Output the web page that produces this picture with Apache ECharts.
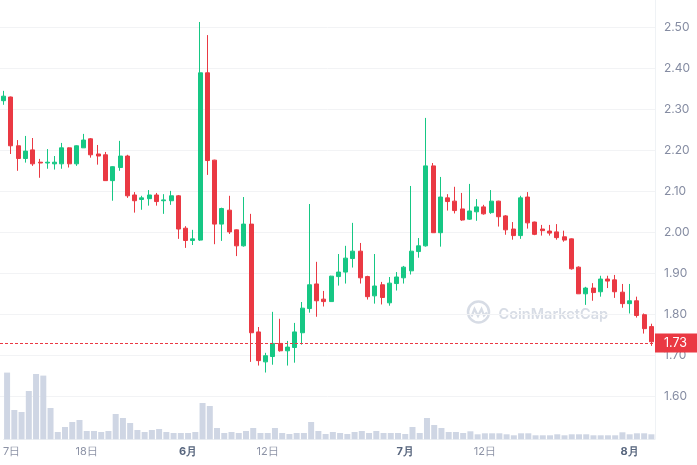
<!DOCTYPE html>
<html><head><meta charset="utf-8">
<script src="https://cdn.jsdelivr.net/npm/echarts@6/dist/echarts.min.js"></script>
<style>html,body{margin:0;padding:0;background:#fff}#c{width:697px;height:465px}</style>
</head><body><div id="c"></div>
<script>
const dates = [
 '05-07','05-08','05-09','05-10','05-11','05-12','05-13','05-14','05-15','05-16','05-17','05-18','05-19','05-20','05-21','05-22','05-23','05-24','05-25','05-26','05-27','05-28','05-29','05-30','05-31',
 '06-01','06-02','06-03','06-04','06-05','06-06','06-07','06-08','06-09','06-10','06-11','06-12','06-13','06-14','06-15','06-16','06-17','06-18','06-19','06-20','06-21','06-22','06-23','06-24','06-25','06-26','06-27','06-28','06-29','06-30',
 '07-01','07-02','07-03','07-04','07-05','07-06','07-07','07-08','07-09','07-10','07-11','07-12','07-13','07-14','07-15','07-16','07-17','07-18','07-19','07-20','07-21','07-22','07-23','07-24','07-25','07-26','07-27','07-28','07-29','07-30','07-31',
 '08-01','08-02','08-03','08-04'
];
const tickIndex = [0, 11, 25, 36, 55, 66, 86];
const tickText = ['7日', '18日', '6月', '12日', '7月', '12日', '8月'];

const open = [2.321,2.330,2.211,2.180,2.201,2.171,2.169,2.167,2.167,2.206,2.167,2.206,2.228,2.191,2.189,2.126,2.158,2.186,2.091,2.080,
 2.082,2.091,2.077,2.077,2.089,2.010,1.980,1.981,2.389,2.176,2.020,2.054,2.006,1.967,2.020,1.757,1.684,1.697,1.729,1.711,
 1.719,1.755,1.814,1.874,1.837,1.831,1.892,1.903,1.936,1.954,1.892,1.845,1.872,1.828,1.875,1.889,1.906,1.953,1.967,2.162,
 1.999,2.084,2.076,2.057,2.032,2.050,2.062,2.048,2.076,2.040,2.008,1.992,2.086,2.025,2.008,2.003,2.001,1.989,1.984,1.915,
 1.850,1.864,1.855,1.886,1.884,1.854,1.826,1.833,1.799,1.770];
const close = [2.332,2.211,2.180,2.198,2.167,2.169,2.171,2.171,2.206,2.167,2.211,2.225,2.189,2.186,2.126,2.160,2.186,2.089,2.077,2.084,
 2.091,2.075,2.079,2.089,2.008,1.980,1.984,2.389,2.175,2.020,2.058,2.001,1.967,2.020,1.755,1.687,1.699,1.729,1.711,1.720,
 1.757,1.815,1.872,1.833,1.831,1.893,1.903,1.937,1.954,1.889,1.843,1.869,1.841,1.876,1.891,1.915,1.954,1.967,2.162,1.999,
 2.086,2.075,2.053,2.030,2.052,2.062,2.045,2.076,2.038,2.006,1.992,2.084,2.023,1.995,2.004,1.998,1.987,1.981,1.911,1.850,
 1.864,1.853,1.886,1.881,1.855,1.826,1.833,1.797,1.765,1.733];
const low = [2.311,2.191,2.150,2.170,2.162,2.133,2.155,2.153,2.155,2.158,2.162,2.206,2.182,2.165,2.126,2.077,2.150,2.084,2.048,2.055,
 2.065,2.065,2.045,2.067,1.984,1.962,1.969,1.979,2.140,1.971,1.979,1.996,1.942,1.965,1.684,1.675,1.658,1.677,1.709,1.675,
 1.682,1.726,1.804,1.794,1.819,1.831,1.870,1.875,1.914,1.875,1.836,1.826,1.824,1.821,1.858,1.875,1.897,1.938,1.965,1.999,
 1.965,2.053,2.046,2.028,2.030,2.028,2.043,2.045,2.014,1.994,1.982,1.984,2.009,1.993,1.992,1.992,1.982,1.977,1.909,1.850,
 1.823,1.833,1.843,1.864,1.840,1.816,1.802,1.792,1.753,1.723];
const high = [2.345,2.331,2.225,2.235,2.230,2.179,2.203,2.186,2.218,2.207,2.212,2.240,2.230,2.213,2.196,2.161,2.223,2.189,2.098,2.089,
 2.103,2.096,2.093,2.101,2.091,2.015,2.006,2.513,2.481,2.177,2.060,2.089,2.007,2.086,2.045,1.769,1.706,1.806,1.789,1.735,
 1.779,1.830,2.069,1.928,1.857,1.894,1.947,1.967,2.023,1.974,1.894,1.947,1.879,1.891,1.903,1.918,2.113,1.986,2.279,2.169,
 2.135,2.093,2.111,2.096,2.118,2.081,2.067,2.103,2.077,2.042,2.025,2.089,2.098,2.026,2.018,2.018,2.020,2.004,1.985,1.917,
 1.867,1.876,1.894,1.894,1.896,1.874,1.874,1.843,1.802,1.777];
const volume = [66.7,29.3,27.3,48.3,65.3,63.7,31.3,7.3,12.3,17.3,19.3,8.3,8.3,7.3,8.3,25.3,21.3,16.3,9.3,7.3,
 9.3,10.3,7.3,6.3,6.3,6.3,7.3,36.3,33.3,11.3,6.3,7.3,6.3,8.3,11.3,6.3,6.3,11.3,6.3,5.3,
 6.3,6.3,17.3,8.3,5.3,7.3,6.3,5.3,7.3,8.3,6.3,8.3,6.3,6.3,6.3,5.3,12.3,6.3,21.3,14.3,
 11.3,7.3,7.3,6.3,8,5,6,6,6,5,4,6,6,4,4,4,5,4,5,5,
 5,4,4,4,4,7,5,6,6,5];

const candle = open.map((o, i) => [o, close[i], low[i], high[i]]);
const last = close[close.length - 1];
const UP = '#16c784', DOWN = '#ea3943';
const FONT = 'Inter';

const chart = echarts.init(document.getElementById('c'));
chart.setOption({
  animation: false,
  backgroundColor: '#fff',
  grid: [
    { left: 0, right: 42, top: 27.3, height: 369 },
    { left: 0, right: 42, top: 359.3, height: 80 }
  ],
  xAxis: [
    { type: 'category', gridIndex: 0, data: dates, boundaryGap: true, show: false },
    {
      type: 'category', gridIndex: 1, data: dates, boundaryGap: true,
      axisLine: { lineStyle: { color: '#eff2f5' } },
      axisTick: { alignWithLabel: true, interval: (i) => tickIndex.includes(i), length: 4, lineStyle: { color: '#e3e6eb' } },
      axisLabel: {
        interval: (i) => tickIndex.includes(i),
        margin: 7,
        formatter: (v, i) => {
          const k = tickIndex.indexOf(i);
          if (k < 0) return '';
          const t = tickText[k];
          if (k === 0) return '{f|' + t + '}';
          return t.indexOf('月') >= 0 ? '{m|' + t + '}' : '{d|' + t + '}';
        },
        rich: {
          d: { color: '#8d93a6', fontSize: 11, fontFamily: FONT },
          f: { color: '#8d93a6', fontSize: 11, fontFamily: FONT, padding: [0, 0, 0, 9] },
          m: { color: '#58667e', fontSize: 11, fontFamily: FONT, fontWeight: 'bold' }
        }
      }
    }
  ],
  yAxis: [
    {
      gridIndex: 0, type: 'value', position: 'right', min: 1.6, max: 2.5, interval: 0.1,
      axisLine: { show: false }, axisTick: { show: false },
      splitLine: { lineStyle: { color: '#f2f3f5', width: 1 } },
      axisLabel: { color: '#858ca2', fontSize: 12, fontFamily: FONT, margin: 9, formatter: (v) => v.toFixed(2) }
    },
    { gridIndex: 1, type: 'value', min: 0, max: 80, show: false }
  ],
  graphic: [
    { type: 'line', shape: { x1: 655.5, y1: 0, x2: 655.5, y2: 439.3 }, style: { stroke: '#eff2f5', lineWidth: 1 }, z: 0, silent: true },
    {
      type: 'group', silent: true, z: 0,
      children: [
        { type: 'circle', shape: { cx: 478.5, cy: 312, r: 10.5 }, style: { fill: 'none', stroke: '#d7dce5', lineWidth: 2.5 } },
        { type: 'polyline', shape: { points: [[471.5, 316.5], [474.5, 309], [478, 316], [481.5, 309], [484, 315.5], [487, 312.5]] }, style: { fill: 'none', stroke: '#d7dce5', lineWidth: 2.2 } },
        { type: 'text', x: 498.5, y: 315, style: { text: 'CoinMarketCap', fill: '#d7dce5', font: '600 14.5px Inter', textVerticalAlign: 'middle' } }
      ]
    }
  ],
  series: [
    {
      type: 'candlestick', xAxisIndex: 0, yAxisIndex: 0, data: candle, barWidth: 4.5, clip: false,
      itemStyle: { color: UP, color0: DOWN, borderColor: UP, borderColor0: DOWN, borderWidth: 1 },
      markLine: {
        silent: true, symbol: ['none', 'none'],
        data: [{ yAxis: last }],
        lineStyle: { color: DOWN, type: [3, 2], width: 1 },
        label: {
          position: 'end', distance: 0, formatter: () => last.toFixed(2),
          color: '#fff', backgroundColor: DOWN, padding: [3, 13, 3, 9], fontSize: 12.5, fontFamily: FONT
        }
      }
    },
    {
      type: 'bar', xAxisIndex: 1, yAxisIndex: 1, data: volume, barWidth: 6,
      itemStyle: { color: '#cfd6e4' }
    }
  ]
});
</script>
</body></html>
